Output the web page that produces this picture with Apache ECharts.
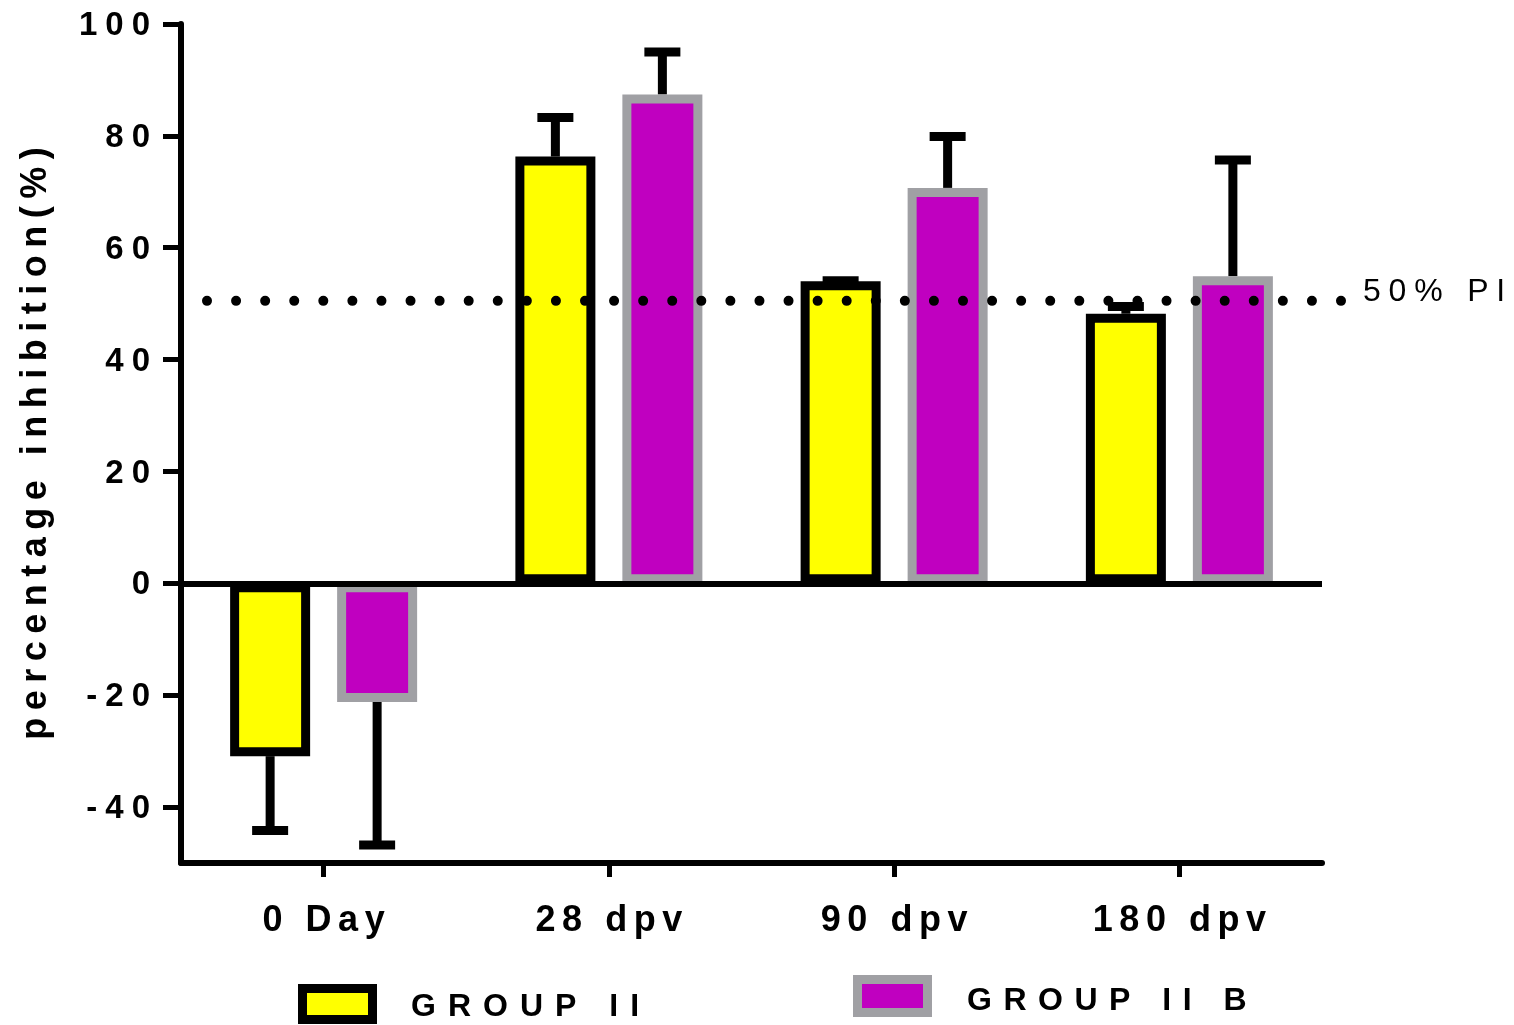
<!DOCTYPE html>
<html>
<head>
<meta charset="utf-8">
<script src="https://cdn.jsdelivr.net/npm/echarts@6/dist/echarts.min.js"></script>
<style>
html,body{margin:0;padding:0;background:#fff;}
#chart{width:1514px;height:1025px;}
</style>
</head>
<body>
<div id="chart"></div>
<script>
// ---- data ----
const categories = ['0 Day', '28 dpv', '90 dpv', '180 dpv'];
const seriesNames = ['GROUP II', 'GROUP II B'];
const groupII = [-30.9, 76.3, 54.0, 48.2];
const groupIIErr = [13.3, 7.0, 0.1, 1.3];
const groupIIB = [-21.2, 87.4, 70.7, 54.9];
const groupIIBErr = [25.6, 7.6, 9.2, 20.8];
const yTicks = [-40, -20, 0, 20, 40, 60, 80, 100];
const piLevel = 50.5;
const piLabel = '50% PI';
const yTitle = 'percentage inhibition(%)';

// ---- style ----
const FONT = '"Liberation Sans", Arial, sans-serif';
const BAR_W = 80, GAP_PX = 27, BORDER = 9;
const YELLOW = '#FFFF00', PURPLE = '#C000C0', GREY = '#A0A0A4';

function spaced(text, key) {
  const ch = Array.from(text);
  return ch.map((c, i) => '{' + (i === ch.length - 1 ? key + 'L' : key) + '|' + c + '}').join('');
}
function richPair(key, size, weight, spacing, padTop) {
  const t = padTop || 0;
  const base = {fontSize: size, fontWeight: weight, fontFamily: FONT, color: '#000', lineHeight: size};
  const o = {};
  o[key] = Object.assign({}, base, {padding: [t, spacing, 0, 0]});
  o[key + 'L'] = Object.assign({}, base, {padding: [t, 0, 0, 0]});
  return o;
}

const chart = echarts.init(document.getElementById('chart'));

function errSeries(means, errs, side) {
  const off = side * (BAR_W + GAP_PX) / 2;
  return {
    type: 'custom',
    xAxisIndex: 0, yAxisIndex: 0,
    z: 1,
    silent: true,
    encode: {x: 0, y: [1, 2]},
    data: means.map((m, i) => [i, m, m + (m < 0 ? -1 : 1) * errs[i]]),
    renderItem: function (params, api) {
      const c0 = api.coord([api.value(0), api.value(1)]);
      const c1 = api.coord([api.value(0), api.value(2)]);
      const x = c0[0] + off;
      return {
        type: 'group',
        children: [
          {type: 'line', shape: {x1: x, y1: c0[1], x2: x, y2: c1[1]}, style: {stroke: '#000', lineWidth: 9}},
          {type: 'line', shape: {x1: x - 18, y1: c1[1], x2: x + 18, y2: c1[1]}, style: {stroke: '#000', lineWidth: 9}}
        ]
      };
    }
  };
}

const option = {
  animation: false,
  backgroundColor: '#fff',
  grid: [
    {left: 181, right: 192, top: 24, bottom: 162, containLabel: false},
    {left: 207, right: 172, top: 24, bottom: 162, containLabel: false}
  ],
  xAxis: [
    {
      type: 'category', gridIndex: 0, data: categories, position: 'bottom',
      axisLine: {show: true, onZero: false, lineStyle: {color: '#000', width: 6}},
      axisTick: {show: true, inside: false, alignWithLabel: true, length: 14, lineStyle: {color: '#000', width: 5}},
      axisLabel: {margin: 40, formatter: v => spaced(v, 'x'), rich: richPair('x', 36, 'bold', 6.5)},
      splitLine: {show: false}
    },
    {type: 'value', gridIndex: 1, min: 0, max: 1, show: false}
  ],
  yAxis: [
    {
      type: 'value', gridIndex: 0, min: -50, max: 100,
      axisLine: {show: true, onZero: false, lineStyle: {color: '#000', width: 6}},
      axisTick: {show: true, length: 18, customValues: yTicks, lineStyle: {color: '#000', width: 5}},
      axisLabel: {margin: 31, customValues: yTicks, formatter: v => spaced(String(v), 'y'),
                  rich: richPair('y', 33, 'bold', 8, 4)},
      splitLine: {show: false},
      name: spaced(yTitle, 't'),
      nameLocation: 'middle',
      nameRotate: 90,
      nameGap: 127,
      nameTextStyle: {rich: richPair('t', 36, 'bold', 7.5)}
    },
    {type: 'value', gridIndex: 1, min: -50, max: 100, show: false}
  ],
  legend: [
    {
      left: 298, top: 984, padding: 0, itemWidth: 70, itemHeight: 31, icon: 'rect', selectedMode: false,
      data: [{name: seriesNames[0], itemStyle: {color: YELLOW, borderColor: '#000', borderWidth: BORDER}}],
      formatter: n => '{lp| }' + spaced(n, 'g'),
      textStyle: {rich: Object.assign({lp: {width: 33.5, fontSize: 32, lineHeight: 32}}, richPair('g', 32, 'bold', 12, 6))}
    },
    {
      left: 853, top: 975, padding: 0, itemWidth: 70, itemHeight: 33, icon: 'rect', selectedMode: false,
      data: [{name: seriesNames[1], itemStyle: {color: PURPLE, borderColor: GREY, borderWidth: BORDER}}],
      formatter: n => '{lp| }' + spaced(n, 'g'),
      textStyle: {rich: Object.assign({lp: {width: 34.5, fontSize: 32, lineHeight: 32}}, richPair('g', 32, 'bold', 11.5, 10))}
    }
  ],
  series: [
    errSeries(groupII, groupIIErr, -1),
    errSeries(groupIIB, groupIIBErr, 1),
    {
      name: seriesNames[0], type: 'bar', xAxisIndex: 0, yAxisIndex: 0, z: 2,
      barWidth: BAR_W, barGap: (GAP_PX / BAR_W * 100) + '%',
      itemStyle: {color: YELLOW, borderColor: '#000', borderWidth: BORDER},
      data: groupII
    },
    {
      name: seriesNames[1], type: 'bar', xAxisIndex: 0, yAxisIndex: 0, z: 2,
      barWidth: BAR_W,
      itemStyle: {color: PURPLE, borderColor: GREY, borderWidth: BORDER},
      data: groupIIB,
      markLine: {
        silent: true, symbol: ['none', 'none'], z: 5,
        label: {show: false},
        lineStyle: {color: '#000', width: 6, type: 'solid'},
        data: [{yAxis: 0}]
      }
    },
    {
      name: 'PI', type: 'line', xAxisIndex: 1, yAxisIndex: 1, z: 10,
      symbol: 'none', silent: true, clip: false,
      lineStyle: {color: '#000', width: 10, type: [0, 1134 / 39], cap: 'round'},
      data: [[0, piLevel], [1, piLevel]],
      endLabel: {
        show: true, distance: 21, offset: [0, -9],
        formatter: () => spaced(piLabel, 'p'),
        rich: richPair('p', 32, 'normal', 7.8)
      }
    }
  ]
};
chart.setOption(option);
</script>
</body>
</html>
